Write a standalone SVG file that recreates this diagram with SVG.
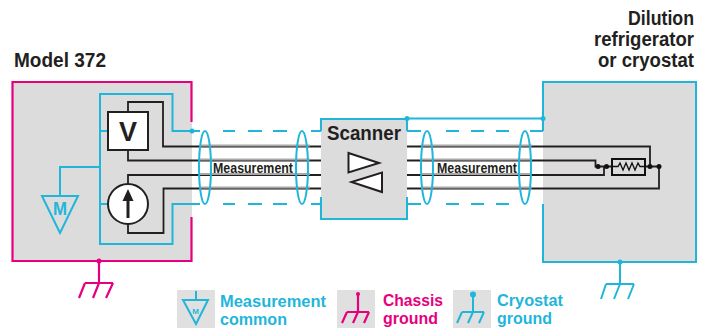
<svg xmlns="http://www.w3.org/2000/svg" width="707" height="328" viewBox="0 0 707 328">
<style>
text{font-family:"Liberation Sans",Arial,sans-serif;font-weight:bold}
.d{fill:#231f20}
.bl{fill:#1fb6da}
.pk{fill:#e6007e}
.lb{fill:none;stroke:#1fb6da;stroke-width:2}
.lp{fill:none;stroke:#e6007e;stroke-width:2.200}
.k{fill:none;stroke:#231f20;stroke-width:1.800}
.g{fill:none;stroke:#a8a8a8;stroke-width:2}
.bg{fill:#dcdcdc}
.lg{fill:#e0e0e0}
</style>
<rect width="707" height="328" fill="#fff"/>
<g id="model372">
<rect class="bg" x="12.500" y="82" width="179.500" height="179"/>
<path class="lp" d="M191.500 122V82H12.500V261H191.500V217"/>
<text x="14" y="67" font-size="21" class="d" textLength="92" lengthAdjust="spacingAndGlyphs">Model 372</text>
</g>
<g id="scanner">
<rect class="bg" x="321" y="119" width="86" height="100"/>
<path class="lb" d="M321 197V219H407V197M321 131V119H407V131"/>
<text x="327" y="140" font-size="21" class="d" textLength="74" lengthAdjust="spacingAndGlyphs">Scanner</text>
<path d="M348.500 153L379 163L348.500 172.500Z" fill="#fff" stroke="#231f20" stroke-width="2"/>
<path d="M382 172.500V192L351.500 182Z" fill="#fff" stroke="#231f20" stroke-width="2"/>
</g>
<g id="cryostat">
<rect class="bg" x="543" y="82" width="153" height="180"/>
<path class="lb" d="M543 204V262H696V82H543V131"/>
<text font-size="20" class="d"><tspan x="628" y="25" textLength="66" lengthAdjust="spacingAndGlyphs">Dilution</tspan><tspan x="594" y="46" textLength="100" lengthAdjust="spacingAndGlyphs">refrigerator</tspan><tspan x="598" y="67" textLength="96" lengthAdjust="spacingAndGlyphs">or cryostat</tspan></text>
</g>
<g id="connectors">
<path class="k" d="M128 112V102H163V146.500H321M128 150V160.500H321M128 184V175H321M128 224V233H163.500V188.500H321"/>
<path class="k" d="M407 146.500H650V166.500M407 160.500H595.500V166.500H598M407 175H604V166.500M407 188.500H659V166.500M598 166.500H612M645 166.500H659"/>
<path class="g" d="M200 145.500H310M200 159.500H310M200 174H310M200 187.500H310M421 145.500H532M421 159.500H532M421 174H532M421 187.500H532"/>
<path class="lb" d="M192 131H172.500V94H100V244H172.500V204H192M100 131H108M100 204H108M100 167H60V196"/>
<path class="lb" d="M192 131H200M192 204H200M223 131H235M248 131H262M273 131H287M223 204H235M248 204H262M273 204H287M311 131H321M311 204H321"/>
<path class="lb" d="M407 118.500H543M407 131H421M446 131H459M471 131H484M496 131H509M530 131H543M407 204H421M446 204H459M471 204H484M496 204H509"/>
<ellipse class="lb" cx="205" cy="167.500" rx="6" ry="36.500"/>
<ellipse class="lb" cx="302" cy="167.500" rx="6" ry="36.500"/>
<ellipse class="lb" cx="427" cy="167.500" rx="6" ry="36.500"/>
<ellipse class="lb" cx="525" cy="167.500" rx="6" ry="36.500"/>
<circle class="bl" cx="192" cy="131" r="2.500"/>
<circle class="bl" cx="407" cy="118.500" r="2.500"/>
<circle class="bl" cx="543" cy="118.500" r="2.500"/>
<circle class="pk" cx="99" cy="261" r="2.500"/>
<circle class="bl" cx="620" cy="262" r="2.500"/>
<g fill="#111"><circle cx="598" cy="166.500" r="2.500"/><circle cx="606.500" cy="166.500" r="2.500"/><circle cx="650" cy="166.500" r="2.500"/><circle cx="659" cy="166.500" r="2.500"/></g>
<path class="lp" d="M99 261V283M85 283H113M85 283L79 298M99 283L93 298M113 283L106 298"/>
<path class="lb" d="M620 262V284M606 284H634M606 284L601 299M620 284L614 299M634 284L628 299"/>
<text x="213" y="173" font-size="14.500" class="d" textLength="80" lengthAdjust="spacingAndGlyphs">Measurement</text>
<text x="437" y="173" font-size="14.500" class="d" textLength="80" lengthAdjust="spacingAndGlyphs">Measurement</text>
</g>
<g id="voltmeter">
<rect x="108" y="112" width="40" height="38" fill="#fff" stroke="#231f20" stroke-width="2"/>
<text x="128" y="141" font-size="27" text-anchor="middle" class="d">V</text>
</g>
<g id="current-source">
<circle cx="128" cy="204" r="20" fill="#fff" stroke="#231f20" stroke-width="2"/>
<path d="M128 218V197" stroke="#231f20" stroke-width="3" fill="none"/>
<path d="M128 189L122.500 201H133.500Z" fill="#231f20"/>
</g>
<g id="measurement-common">
<path class="lb" d="M42 196H78L60 233Z"/>
<text x="60" y="215" font-size="19" text-anchor="middle" class="bl" textLength="14" lengthAdjust="spacingAndGlyphs">M</text>
</g>
<g id="resistor">
<rect x="612" y="159" width="33" height="16" fill="none" stroke="#111" stroke-width="2"/>
<path d="M612 166.500H618L620 163L623 170L626 163L629 170L632 163L635 170L638 163L640 166.500H645" fill="none" stroke="#111" stroke-width="1.300"/>
</g>
<g id="legend-measurement-common">
<rect class="lg" x="177" y="290" width="38" height="38"/>
<path class="lb" d="M196 291V300M183 300H208L196 324Z"/>
<text x="195.500" y="313.500" font-size="8" text-anchor="middle" class="bl">M</text>
<text x="220" y="307" font-size="16" class="bl" textLength="106" lengthAdjust="spacingAndGlyphs">Measurement</text>
<text x="220" y="325" font-size="16" class="bl" textLength="67" lengthAdjust="spacingAndGlyphs">common</text>
</g>
<g id="legend-chassis-ground">
<rect class="lg" x="337" y="290" width="38" height="38"/>
<circle class="pk" cx="358" cy="294" r="2"/>
<path class="lp" d="M358 294V312M347 312H369M347 312L342 323M358 312L353 323M369 312L364 323"/>
<text x="383" y="305.500" font-size="16" class="pk" textLength="60" lengthAdjust="spacingAndGlyphs">Chassis</text>
<text x="383" y="323.500" font-size="16" class="pk" textLength="55" lengthAdjust="spacingAndGlyphs">ground</text>
</g>
<g id="legend-cryostat-ground">
<rect class="lg" x="453" y="290" width="38" height="38"/>
<circle class="bl" cx="473" cy="294.500" r="3"/>
<path class="lb" d="M473 294V312M462 312H484M462 312L457 323M473 312L468 323M484 312L479 323"/>
<text x="497" y="305.500" font-size="16" class="bl" textLength="66" lengthAdjust="spacingAndGlyphs">Cryostat</text>
<text x="497" y="323.500" font-size="16" class="bl" textLength="55" lengthAdjust="spacingAndGlyphs">ground</text>
</g>
</svg>
